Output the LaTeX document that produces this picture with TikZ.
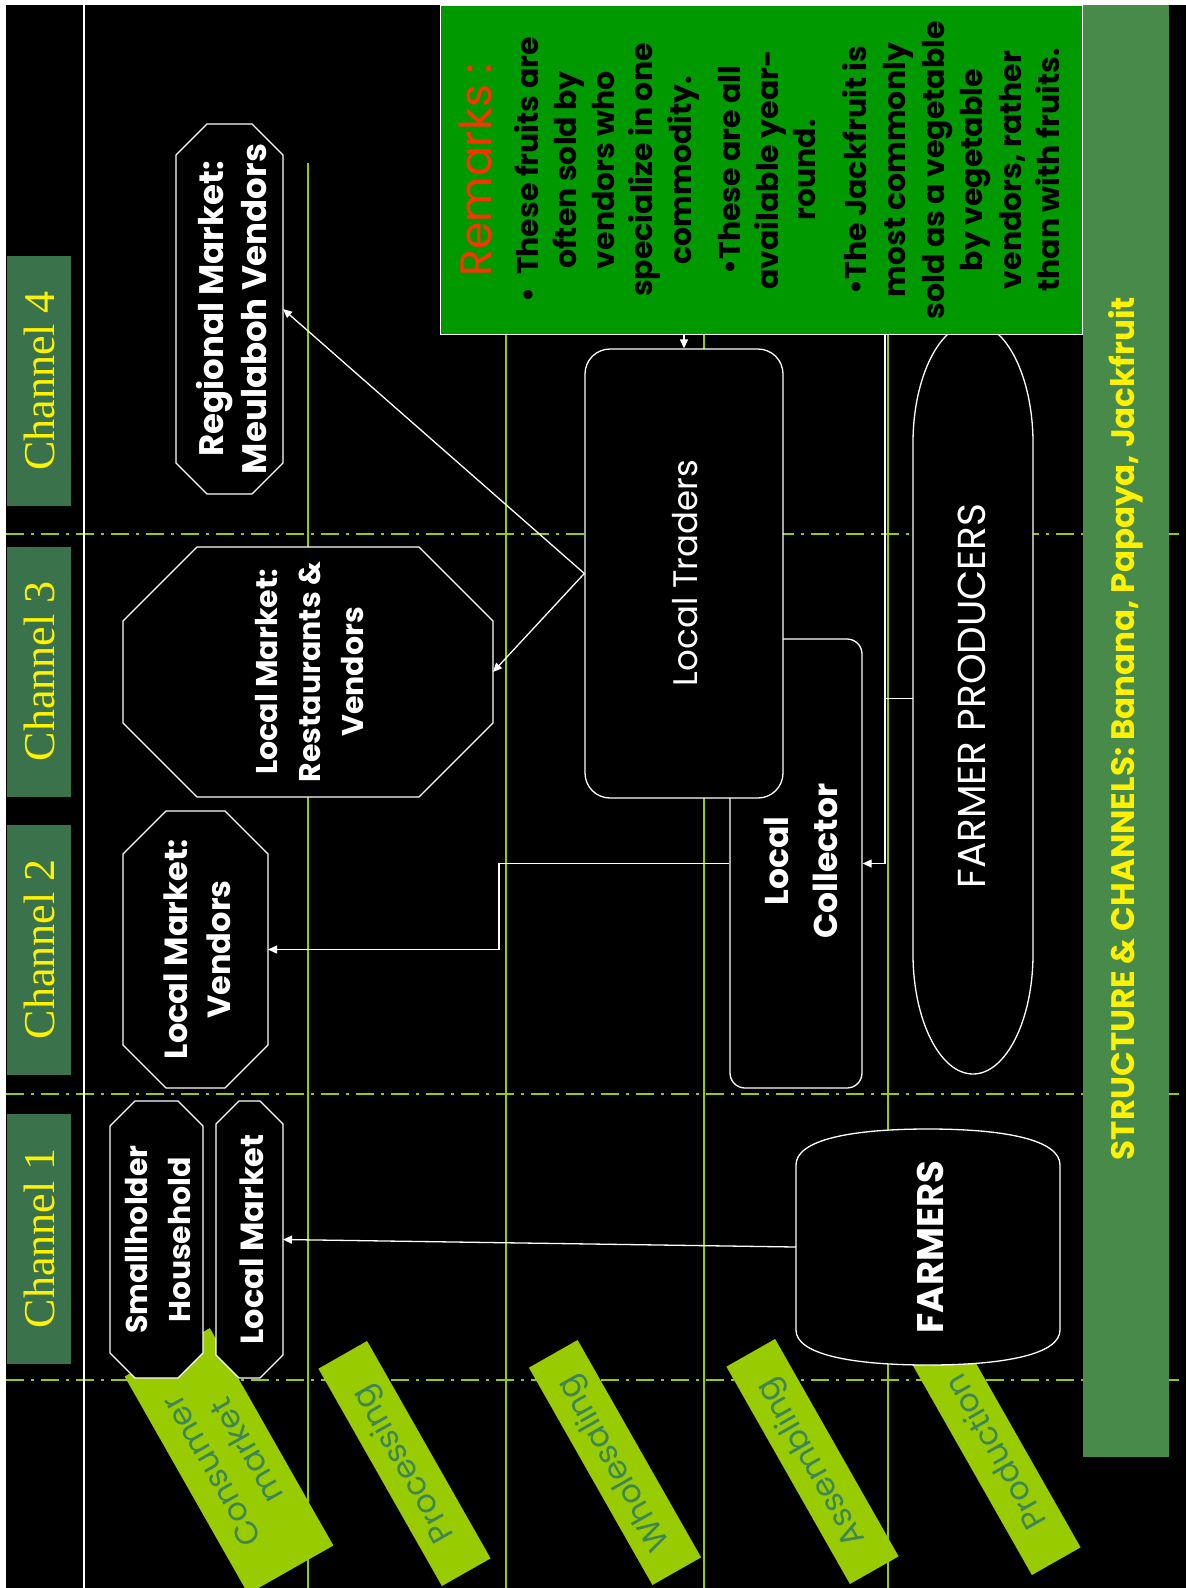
\documentclass[tikz,border=0pt]{standalone}
\usepackage{fontspec}
\setmainfont{Poppins}
\newfontfamily\chfont{Liberation Serif}
\usetikzlibrary{shapes.misc,arrows.meta,calc}
\definecolor{chgreen}{RGB}{58,115,75}
\definecolor{titlegreen}{RGB}{72,138,74}
\definecolor{remgreen}{RGB}{0,153,0}
\definecolor{ygreen}{RGB}{153,204,0}
\definecolor{stagetext}{RGB}{62,134,86}
\definecolor{remred}{RGB}{255,51,0}
\newcommand{\octpath}[2]{%
  \filldraw[fill=black, draw=white, line width=1.3pt]
    ($(#1.north west)+(#2,0)$) -- ($(#1.north east)+(-#2,0)$) --
    ($(#1.north east)+(0,#2)$) -- ($(#1.south east)+(0,-#2)$) --
    ($(#1.south east)+(-#2,0)$) -- ($(#1.south west)+(#2,0)$) --
    ($(#1.south west)+(0,-#2)$) -- ($(#1.north west)+(0,#2)$) -- cycle;}
\begin{document}
\begin{tikzpicture}[x=1pt,y=-1pt,
  wline/.style={draw=white, line width=1.3pt},
  arr/.style={wline, -{Triangle[length=9pt,width=8pt]}},
  gline/.style={draw=ygreen, line width=1.5pt},
  dline/.style={gline, dash pattern=on 18pt off 7pt on 3pt off 7pt},
  octbox/.style={rectangle, inner sep=0pt, outer sep=0pt},
  rbox/.style={rectangle, draw=white, fill=black, line width=1.3pt, inner sep=0pt},
  txt/.style={text=white, rotate=90, align=center, inner sep=0pt},
  bt/.style={txt, font=\bfseries\fontsize{32}{43}\selectfont},
  chbox/.style={fill=chgreen, minimum width=64pt, minimum height=250pt, inner sep=0pt},
  chtxt/.style={rotate=90, text=yellow, font=\chfont\fontsize{44}{48}\selectfont, inner sep=0pt},
  stage/.style={fill=ygreen, text=stagetext, rotate=119.6, minimum width=250pt, minimum height=56pt, inner sep=0pt, align=center, font=\fontsize{32}{40}\selectfont},
  remtxt/.style={rotate=90, align=center, inner sep=0pt, text=black}
]
\useasboundingbox (0,0) rectangle (1186,1588);
% background
\fill[black] (0,0) rectangle (1186,1588);
\fill[white] (0,0) rectangle (6,1588);
\fill[white] (0,0) rectangle (1186,5);

% grid lines
\draw[gline] (308,163) -- (308,1588);
\draw[gline] (506,5) -- (506,1588);
\draw[gline] (704,5) -- (704,1588);
\draw[gline] (888,5) -- (888,1588);
\draw[dline] (6,534) -- (1186,534);
\draw[dline] (6,1094) -- (1186,1094);
\draw[dline] (6,1380) -- (1186,1380);
\draw[wline] (84,5) -- (84,1588);

% stage labels
\node[stage, minimum height=98pt] (cons) at (229,1461) {Consumer\\market};
\node[stage] (proc) at (404.5,1463.5) {Processing};
\node[stage] (whol) at (615,1462.5) {Wholesaling};
\node[stage] (asse) at (812.5,1461.5) {Assembling};
\node[stage] (prod) at (994.5,1452.5) {Production};

% shapes
\node[rbox, rounded corners=15pt, minimum width=132pt, minimum height=449pt] (coll) at (796,863.5) {};
\node[rbox, rounded corners=25pt, minimum width=198pt, minimum height=449pt] (trad) at (684,573.5) {};
\node[octbox, minimum width=107pt, minimum height=370pt] (reg) at (229.5,309) {};
\octpath{reg}{31}
\node[octbox, minimum width=370pt, minimum height=250pt] (rest) at (308,672) {};
\octpath{rest}{74}
\node[octbox, minimum width=145pt, minimum height=277pt] (lmv) at (195.5,949.5) {};
\octpath{lmv}{43}
\node[octbox, minimum width=93pt, minimum height=277pt] (small) at (156.5,1239.5) {};
\octpath{small}{25}
\node[octbox, minimum width=67pt, minimum height=277pt] (lm1) at (249.5,1239.5) {};
\octpath{lm1}{23}

% farmer producers shape
\filldraw[fill=black, draw=white, line width=1.3pt]
  (913,443) -- (913,954) .. controls (913,1020) and (940,1074) .. (973,1074)
  .. controls (1006,1074) and (1033,1020) .. (1033,954) -- (1033,443)
  .. controls (1033,377) and (1006,323) .. (973,323)
  .. controls (940,323) and (913,377) .. (913,443) -- cycle;
% farmers shape
\filldraw[fill=black, draw=white, line width=1.3pt]
  (796,1330) -- (796,1165) .. controls (796,1140) and (850,1129) .. (928,1129)
  .. controls (1006,1129) and (1060,1140) .. (1060,1165) -- (1060,1330)
  .. controls (1060,1354) and (1006,1365) .. (928,1365)
  .. controls (850,1365) and (796,1354) .. (796,1330) -- cycle;
\node[inner sep=0pt, minimum width=120pt, minimum height=751pt] (fp) at (973,698.5) {};
\node[inner sep=0pt, minimum width=264pt, minimum height=236pt] (farm) at (928,1247) {};

% texts
\node[txt, font=\bfseries\fontsize{34}{43}\selectfont] at (231.5,309) {Regional Market:\\Meulaboh Vendors};
\node[txt, font=\bfseries\fontsize{30}{43}\selectfont] at (310,672) {Local Market:\\Restaurants \&\\Vendors};
\node[bt] at (197,949.5) {Local Market:\\Vendors};
\node[txt, font=\bfseries\fontsize{30}{43}\selectfont] at (158.5,1239.5) {Smallholder\\Household};
\node[bt] at (252,1239.5) {Local Market};
\node[txt, font=\fontsize{34}{43}\selectfont] at (685,573) {Local Traders};
\node[txt, font=\bfseries\fontsize{33}{49}\selectfont] at (801,861) {Local\\Collector};
\node[txt, font=\fontsize{39}{40}\selectfont] at (972,696) {FARMER PRODUCERS};
\node[txt, font=\bfseries\fontsize{37}{40}\selectfont] at (930,1247) {FARMERS};

% connectors
\coordinate (jx) at (885,300);
\coordinate (kx) at (499,900);
\draw[arr] (fp.west) -- (fp.west -| jx) -- (jx) -| (trad.north);
\draw[arr] (fp.west -| jx) |- (coll.east);
\draw[arr] (trad.west) -- (reg.east);
\draw[arr] (trad.west) -- (rest.east);
\draw[arr] (coll.west) -- (coll.west -| kx) |- (lmv.east);
\draw[arr] (farm.west) -- (lm1.east);

% remarks box
\node[fill=remgreen, draw=white, line width=1pt, minimum width=642pt, minimum height=329pt, anchor=north west, inner sep=0pt] (rem) at (440,5) {};
\node[rotate=90, inner sep=0pt, text=remred, font=\fontsize{44}{46}\selectfont] (remt) at (475,170) {Remarks :};
\node[remtxt, font=\bfseries\fontsize{30}{38.25}\selectfont] (p1) at (606.5,170) {•\ \ These fruits are\\often sold by\\vendors who\\specialize in one\\commodity.};
\node[remtxt, font=\bfseries\fontsize{30}{37.5}\selectfont] (p2) at (767.5,170) {•These are all\\available year-\\round.};
\node[remtxt, font=\bfseries\fontsize{30}{38.6}\selectfont] (p3) at (951.5,170) {•The Jackfruit is\\most commonly\\sold as a vegetable\\by vegetable\\vendors, rather\\than with fruits.};

% title bar
\node[fill=titlegreen, minimum width=86pt, minimum height=1452pt, anchor=north west, inner sep=0pt] (bar) at (1083,5) {};
\node[rotate=90, inner sep=0pt, text=yellow, font=\bfseries\fontsize{32.5}{34}\selectfont] (title) at (1126,728.5) {STRUCTURE \& CHANNELS: Banana, Papaya, Jackfruit};

% channel headers
\node[chbox] (ch4) at (39,381) {};
\node[chbox] (ch3) at (39,671.5) {};
\node[chbox] (ch2) at (39,949.5) {};
\node[chbox] (ch1) at (39,1238.5) {};
\node[chtxt] at (ch4) {Channel 4};
\node[chtxt] at (ch3) {Channel 3};
\node[chtxt] at (ch2) {Channel 2};
\node[chtxt] at (ch1) {Channel 1};
\end{tikzpicture}
\end{document}
